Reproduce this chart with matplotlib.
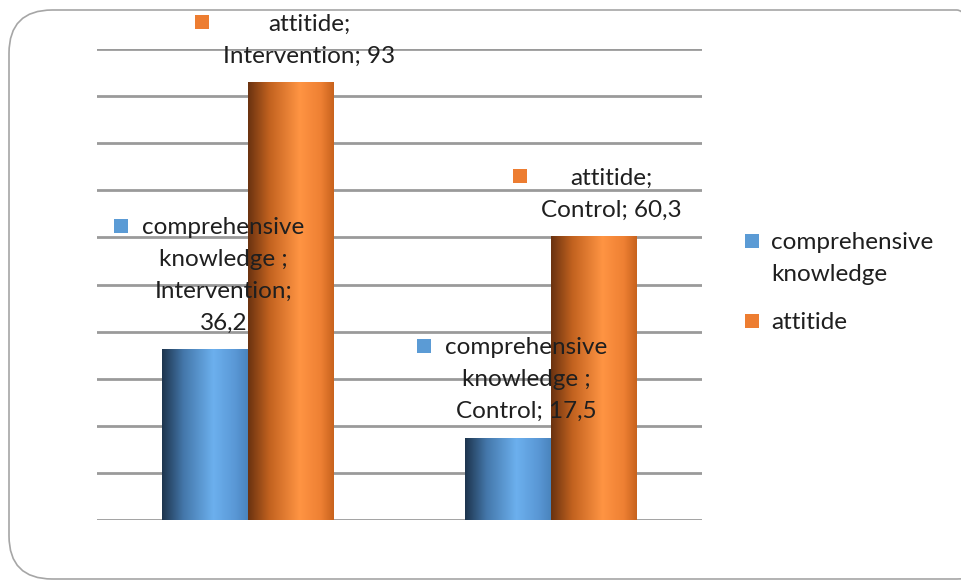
import numpy as np
import matplotlib
matplotlib.use("Agg")
import matplotlib.pyplot as plt
from matplotlib.patches import FancyBboxPatch, Rectangle
from matplotlib.colors import LinearSegmentedColormap

# ---- data ----
categories = ["Intervention", "Control"]
series_names = ["comprehensive knowledge", "attitide"]
legend_labels = ["comprehensive\nknowledge", "attitide"]
knowledge = [36.2, 17.5]
attitude = [93, 60.3]
knowledge_labels = ["comprehensive\nknowledge ;\nIntervention;\n36,2",
                    "comprehensive\nknowledge ;\nControl; 17,5"]
attitude_labels = ["attitide;\nIntervention; 93", "attitide;\nControl; 60,3"]

W, H, DPI = 961, 582, 100
fig = plt.figure(figsize=(W / DPI, H / DPI), dpi=DPI)
plt.rcParams['font.family'] = ['Lato', 'DejaVu Sans']
FS = 17.5
LS = 1.66
TXT = "#1f1f1f"

# rounded frame
frame = FancyBboxPatch((9 / W, 3 / H), (W + 30) / W, (H - 10 - 3) / H,
                       boxstyle="round,pad=0,rounding_size=0.045",
                       transform=fig.transFigure, fill=False,
                       edgecolor="#a6a6a6", linewidth=1.2, mutation_aspect=W / H)
fig.patches.append(frame)

ax = fig.add_axes([97 / W, (H - 520) / H, (702 - 97) / W, (520 - 49) / H])
ax.set_xlim(-0.5, 1.5)
ax.set_ylim(0, 100)
for s in ax.spines.values():
    s.set_visible(False)
ax.set_xticks([])
ax.set_yticks(np.arange(0, 101, 10))
ax.tick_params(axis='y', length=0, labelleft=False)
ax.yaxis.grid(True, color="#9a9a9a", linewidth=2.0)
ax.set_axisbelow(True)

x = np.arange(len(categories))
bw = 0.284

blue_cmap = LinearSegmentedColormap.from_list(
    "b", [(0, "#1d344d"), (0.25, "#4477aa"), (0.6, "#6cb0ee"), (0.85, "#5a98d6"), (1, "#4a84bd")])
orange_cmap = LinearSegmentedColormap.from_list(
    "o", [(0, "#6a3210"), (0.25, "#c2621f"), (0.6, "#ff9443"), (0.85, "#ee8033"), (1, "#c8621d")])

grad = np.linspace(0, 1, 256).reshape(1, -1)


def shaded(bars, cmap):
    for b in bars:
        x0, y0 = b.get_x(), b.get_y()
        w, h = b.get_width(), b.get_height()
        im = ax.imshow(grad, cmap=cmap, aspect='auto',
                       extent=(x0, x0 + w, y0, y0 + h), zorder=3,
                       interpolation='bicubic')
        im.set_clip_path(b)


b1 = ax.bar(x - bw / 2, knowledge, bw, color="#5b9bd5", zorder=2, linewidth=0,
            label=series_names[0])
b2 = ax.bar(x + bw / 2, attitude, bw, color="#ed7d31", zorder=2, linewidth=0,
            label=series_names[1])
shaded(b1, blue_cmap)
shaded(b2, orange_cmap)

# data labels with legend keys
texts = []
for bars, labels, col in [(b1, knowledge_labels, "#5b9bd5"), (b2, attitude_labels, "#ed7d31")]:
    for b, lab in zip(bars, labels):
        xc = b.get_x() + b.get_width() / 2
        t = ax.annotate(lab, (xc, b.get_height()), xytext=(13, 11),
                        textcoords='offset points', ha='center', va='bottom',
                        multialignment='center', fontsize=FS, color=TXT,
                        linespacing=LS, zorder=5)
        texts.append((t, col))

fig.canvas.draw()
r = fig.canvas.get_renderer()
ks = 14  # key size in px
for t, col in texts:
    bb = t.get_window_extent(r)
    cx = bb.x0 - 21
    cy = bb.y1 - 9
    fig.patches.append(Rectangle(((cx - ks / 2) / W, (cy - ks / 2) / H), ks / W, ks / H,
                                 transform=fig.transFigure, facecolor=col,
                                 edgecolor='none', zorder=6))

# legend (manual)
for lab, col, ytop in [(legend_labels[0], "#5b9bd5", 241), (legend_labels[1], "#ed7d31", 321)]:
    fig.patches.append(Rectangle(((752 - ks / 2) / W, (H - ytop - ks / 2) / H), ks / W, ks / H,
                                 transform=fig.transFigure, facecolor=col, edgecolor='none'))
    fig.text(771 / W, (H - ytop + 9) / H, lab, ha='left', va='top', fontsize=FS,
             color=TXT, linespacing=LS)

fig.savefig("out.png", dpi=DPI)
